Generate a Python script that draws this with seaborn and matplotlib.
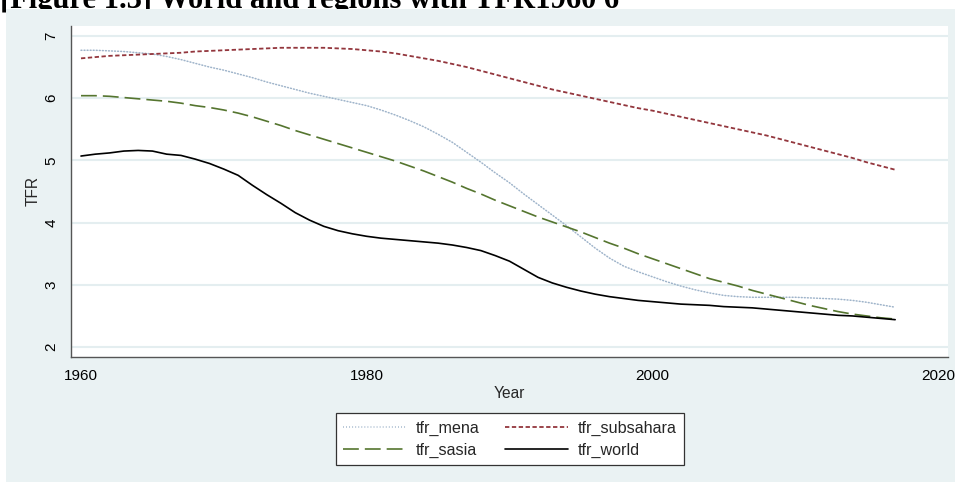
import numpy as np
import pandas as pd
import matplotlib
matplotlib.use("Agg")
import matplotlib.pyplot as plt
from matplotlib.patches import Rectangle
from matplotlib.lines import Line2D
import seaborn as sns

years = list(range(1960, 2018))

tfr_world = [5.07, 5.10, 5.12, 5.15, 5.16, 5.15, 5.10, 5.08, 5.02, 4.95,
             4.86, 4.76, 4.60, 4.45, 4.31, 4.16, 4.04, 3.94, 3.87, 3.82,
             3.78, 3.75, 3.73, 3.71, 3.69, 3.67, 3.64, 3.60, 3.55, 3.47,
             3.38, 3.25, 3.12, 3.03, 2.96, 2.90, 2.85, 2.81, 2.78, 2.75,
             2.73, 2.71, 2.69, 2.68, 2.67, 2.65, 2.64, 2.63, 2.61, 2.59,
             2.57, 2.55, 2.53, 2.51, 2.50, 2.48, 2.46, 2.44]

tfr_subsahara = [6.64, 6.66, 6.68, 6.69, 6.70, 6.71, 6.72, 6.73, 6.75, 6.76,
                 6.77, 6.78, 6.79, 6.80, 6.81, 6.81, 6.81, 6.81, 6.80, 6.79,
                 6.77, 6.75, 6.72, 6.68, 6.64, 6.60, 6.55, 6.50, 6.44, 6.38,
                 6.32, 6.26, 6.20, 6.14, 6.09, 6.04, 5.99, 5.94, 5.89, 5.84,
                 5.80, 5.75, 5.70, 5.65, 5.60, 5.55, 5.50, 5.45, 5.40, 5.34,
                 5.28, 5.22, 5.16, 5.10, 5.04, 4.97, 4.91, 4.85]

tfr_sasia = [6.04, 6.04, 6.03, 6.01, 5.99, 5.97, 5.95, 5.92, 5.88, 5.85,
             5.81, 5.76, 5.70, 5.63, 5.56, 5.48, 5.41, 5.34, 5.27, 5.20,
             5.13, 5.06, 4.99, 4.91, 4.83, 4.74, 4.65, 4.55, 4.46, 4.36,
             4.27, 4.18, 4.09, 4.01, 3.93, 3.85, 3.76, 3.67, 3.59, 3.50,
             3.42, 3.34, 3.26, 3.18, 3.10, 3.04, 2.98, 2.91, 2.85, 2.79,
             2.73, 2.67, 2.62, 2.57, 2.53, 2.50, 2.47, 2.45]

tfr_mena = [6.77, 6.77, 6.76, 6.75, 6.73, 6.71, 6.67, 6.62, 6.56, 6.50,
            6.45, 6.39, 6.33, 6.26, 6.20, 6.14, 6.08, 6.03, 5.98, 5.93,
            5.88, 5.81, 5.73, 5.64, 5.54, 5.42, 5.29, 5.13, 4.97, 4.80,
            4.64, 4.46, 4.29, 4.12, 3.95, 3.77, 3.59, 3.43, 3.30, 3.21,
            3.13, 3.05, 2.98, 2.92, 2.87, 2.83, 2.81, 2.80, 2.80, 2.80,
            2.80, 2.79, 2.78, 2.77, 2.75, 2.72, 2.68, 2.64]

x_ticks = [1960, 1980, 2000, 2020]
y_ticks = [2, 3, 4, 5, 6, 7]

series = {
    "tfr_mena": tfr_mena,
    "tfr_subsahara": tfr_subsahara,
    "tfr_sasia": tfr_sasia,
    "tfr_world": tfr_world,
}
df = pd.DataFrame({"Year": years, **series}).melt(id_vars="Year", var_name="series", value_name="TFR")

colors = {"tfr_mena": "#9fb4ca", "tfr_subsahara": "#93363d",
          "tfr_sasia": "#55752f", "tfr_world": "#000000"}
dashes = {"tfr_mena": (0.6, 1.4), "tfr_subsahara": (2.4, 1.4),
          "tfr_sasia": (9.5, 3.6), "tfr_world": ""}
widths = {"tfr_mena": 1.1, "tfr_subsahara": 1.3, "tfr_sasia": 1.2, "tfr_world": 1.2}

sns.set_style("white")
plt.rcParams["font.family"] = ["Liberation Sans", "DejaVu Sans"]

BG = "#eaf2f3"
fig = plt.figure(figsize=(9.55, 4.82), dpi=100, facecolor="white")
fig.patches.append(Rectangle((6 / 955, 0), 1 - 6 / 955, 1 - 9 / 482,
                             transform=fig.transFigure, facecolor=BG,
                             edgecolor="none", zorder=-10))

ax = fig.add_axes([71 / 955, 1 - 357 / 482, (948 - 71) / 955, (357 - 26) / 482])
ax.set_zorder(1)
ax.set_facecolor("white")

for name in series:
    sub = df[df["series"] == name]
    sns.lineplot(data=sub, x="Year", y="TFR", ax=ax, color=colors[name],
                 linewidth=widths[name], dashes=False, legend=False)
    line = ax.get_lines()[-1]
    if dashes[name]:
        line.set_dashes(dashes[name])
    if name == "tfr_mena":
        line.set_dash_capstyle("round")

ax.set_xlim(1959.3, 2020.7)
ax.set_ylim(1.84, 7.16)
ax.set_xticks(x_ticks)
ax.set_yticks(y_ticks)
ax.grid(axis="y", color="#e4eef0", linewidth=1.5)
ax.grid(axis="x", visible=False)
ax.set_axisbelow(True)

for s in ["top", "right"]:
    ax.spines[s].set_visible(False)
for s in ["left", "bottom"]:
    ax.spines[s].set_color("#555555")
    ax.spines[s].set_linewidth(1.0)

ax.tick_params(axis="both", which="major", direction="out", length=5,
               width=0.9, color="#555555", labelsize=11, labelcolor="black")
ax.tick_params(axis="y", pad=4)
ax.tick_params(axis="x", pad=4)
for lbl in ax.get_yticklabels():
    lbl.set_rotation(90)
    lbl.set_va("center")

ax.set_xlabel("Year", fontsize=11.2, labelpad=2)
ax.set_ylabel("TFR", fontsize=11.2, labelpad=3)

order = ["tfr_mena", "tfr_sasia", "tfr_subsahara", "tfr_world"]
handles = []
for name in order:
    h = Line2D([], [], color=colors[name], linewidth=widths[name])
    if dashes[name]:
        h.set_dashes(dashes[name])
    handles.append(h)
leg = fig.legend(handles, order, ncol=2, loc="center",
                 bbox_to_anchor=(510 / 955, 1 - 439 / 482),
                 frameon=True, fancybox=False, fontsize=11.6, framealpha=1,
                 handlelength=3.9, handletextpad=0.6, columnspacing=1.6,
                 borderpad=0.45, labelspacing=0.42)
leg.get_frame().set_edgecolor("#333333")
leg.get_frame().set_linewidth(0.9)
leg.get_frame().set_facecolor("white")

fig.text(0.0, 1 - 8 / 482, "[Figure 1.3] World and regions with TFR1960 6",
         fontsize=22, fontweight="bold", family=["Liberation Serif", "DejaVu Serif"],
         ha="left", va="baseline", color="black", zorder=-20)

fig.savefig("out.png", dpi=100, facecolor="white")
